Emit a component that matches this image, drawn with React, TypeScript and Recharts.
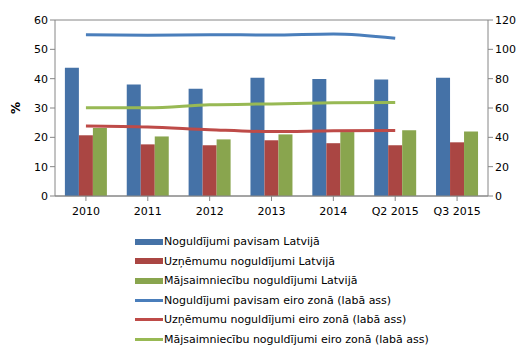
import { Bar, CartesianGrid, ComposedChart, Legend, Line, XAxis, YAxis } from 'recharts'

const categories = ['2010', '2011', '2012', '2013', '2014', 'Q2 2015', 'Q3 2015']

const totalLv = [43.7, 38.0, 36.6, 40.3, 39.9, 39.7, 40.3]
const companiesLv = [20.7, 17.6, 17.3, 19.0, 18.0, 17.3, 18.3]
const householdsLv = [23.2, 20.3, 19.3, 21.0, 21.8, 22.4, 22.0]

// euro area, right axis (no Q3 2015 point)
const totalEa = [110.0, 109.6, 110.0, 109.8, 110.5, 107.6, null]
const companiesEa = [47.7, 47.0, 45.2, 43.9, 44.5, 44.7, null]
const householdsEa = [60.1, 60.1, 62.2, 62.8, 63.5, 63.7, null]

const leftTicks = [0, 10, 20, 30, 40, 50, 60]
const rightTicks = [0, 20, 40, 60, 80, 100, 120]

const data = categories.map((c, i) => ({
  name: c,
  totalLv: totalLv[i],
  companiesLv: companiesLv[i],
  householdsLv: householdsLv[i],
  totalEa: totalEa[i],
  companiesEa: companiesEa[i],
  householdsEa: householdsEa[i],
}))

const legendItems = [
  { label: 'Noguldījumi pavisam Latvijā', color: '#4572A7', kind: 'bar' },
  { label: 'Uzņēmumu noguldījumi Latvijā', color: '#AA4643', kind: 'bar' },
  { label: 'Mājsaimniecību noguldījumi Latvijā', color: '#89A54E', kind: 'bar' },
  { label: 'Noguldījumi pavisam eiro zonā (labā ass)', color: '#4A7EBB', kind: 'line' },
  { label: 'Uzņēmumu noguldījumi eiro zonā (labā ass)', color: '#BE4B48', kind: 'line' },
  { label: 'Mājsaimniecību noguldījumi eiro zonā (labā ass)', color: '#98B954', kind: 'line' },
]

const font = 'DejaVu Sans, Verdana, sans-serif'
const axisColor = '#868686'

function ChartLegend() {
  return (
    <div style={{ width: 528, height: 130, position: 'relative', fontFamily: font, fontSize: 11, color: '#000' }}>
      {legendItems.map((it, i) => (
        <div
          key={it.label}
          style={{ position: 'absolute', left: 135, top: 4 + i * 19.5, height: 19, display: 'flex', alignItems: 'center', whiteSpace: 'nowrap' }}
        >
          <span
            style={{
              display: 'inline-block',
              width: 28,
              height: it.kind === 'bar' ? 6 : 3,
              background: it.color,
              marginRight: 1,
            }}
          />
          <span>{it.label}</span>
        </div>
      ))}
    </div>
  )
}

export default function App() {
  return (
    <div style={{ position: 'absolute', left: 0, top: 0, background: '#fff' }}>
      <ComposedChart
        width={528}
        height={360}
        data={data}
        margin={{ top: 20, right: 0, bottom: 2, left: 0 }}
        barCategoryGap="16%"
        barGap={0}
      >
        <CartesianGrid vertical={false} stroke={axisColor} strokeWidth={1} />
        <XAxis
          dataKey="name"
          height={32}
          interval={0}
          stroke={axisColor}
          tickSize={5}
          tickMargin={6}
          tick={{ fill: '#000', fontSize: 11, fontFamily: font }}
          tickLine={{ stroke: axisColor }}
        />
        <YAxis
          yAxisId="left"
          domain={[0, 60]}
          ticks={leftTicks}
          width={55}
          stroke={axisColor}
          tickSize={5}
          tick={{ fill: '#000', fontSize: 11, fontFamily: font }}
          label={{ value: '%', angle: -90, position: 'insideLeft', offset: 16, dy: 6, style: { fontFamily: font, fontSize: 12, fontWeight: 'bold', fill: '#000' } }}
        />
        <YAxis
          yAxisId="right"
          orientation="right"
          domain={[0, 120]}
          ticks={rightTicks}
          width={40}
          stroke={axisColor}
          tickSize={5}
          tick={{ fill: '#000', fontSize: 11, fontFamily: font }}
        />
        <Legend verticalAlign="bottom" content={() => <ChartLegend />} />
        <Bar yAxisId="left" dataKey="totalLv" fill="#4572A7" isAnimationActive={false} />
        <Bar yAxisId="left" dataKey="companiesLv" fill="#AA4643" isAnimationActive={false} />
        <Bar yAxisId="left" dataKey="householdsLv" fill="#89A54E" isAnimationActive={false} />
        <Line yAxisId="right" type="monotone" dataKey="totalEa" stroke="#4A7EBB" strokeWidth={3} dot={false} isAnimationActive={false} />
        <Line yAxisId="right" type="monotone" dataKey="companiesEa" stroke="#BE4B48" strokeWidth={3} dot={false} isAnimationActive={false} />
        <Line yAxisId="right" type="monotone" dataKey="householdsEa" stroke="#98B954" strokeWidth={3} dot={false} isAnimationActive={false} />
      </ComposedChart>
    </div>
  )
}
